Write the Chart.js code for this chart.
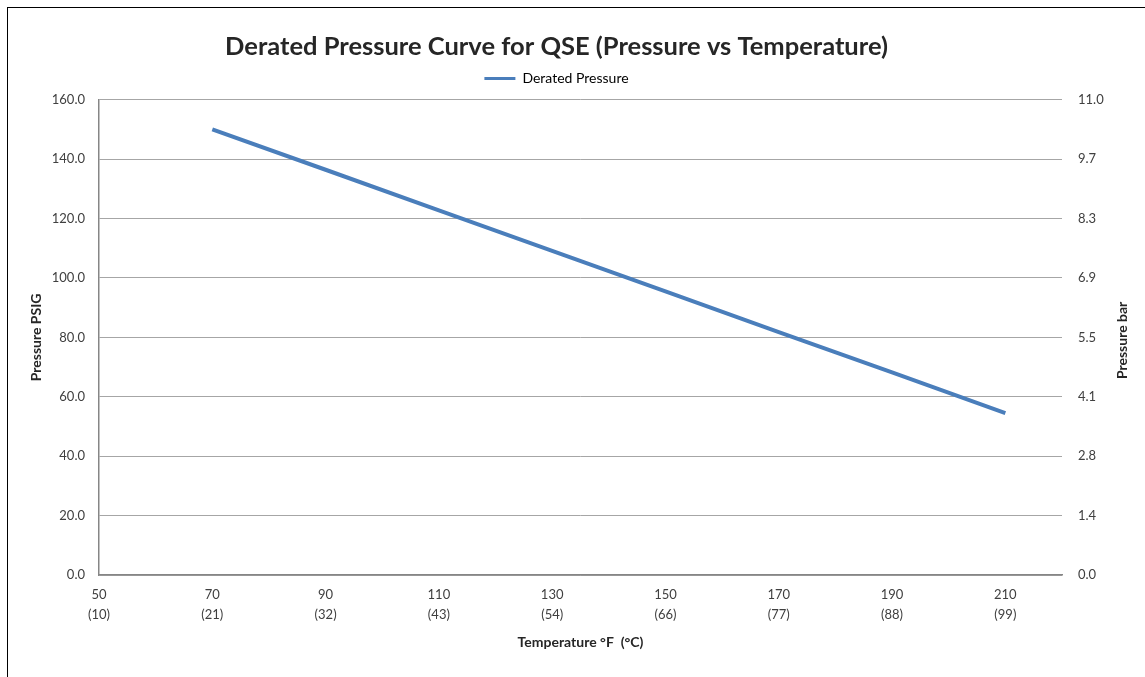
<!DOCTYPE html>
<html>
<head>
<meta charset="utf-8">
<script src="https://cdn.jsdelivr.net/npm/chart.js@4.4.1/dist/chart.umd.min.js"></script>
<style>
    html, body { margin: 0; padding: 0; background: #ffffff; }
    #wrap { position: relative; width: 1145px; height: 677px; }
    #frame {
        position: absolute; left: 7px; top: 7px; right: -5px; bottom: -5px;
        border-left: 1px solid #000; border-top: 1px solid #000;
        pointer-events: none;
    }
</style>
</head>
<body>
<div id="wrap">
    <canvas id="chart" width="1145" height="677"></canvas>
    <div id="frame"></div>
</div>
<script>
// Datos
const tempF = [50, 70, 90, 110, 130, 150, 170, 190, 210];
const tempC = ['(10)', '(21)', '(32)', '(43)', '(54)', '(66)', '(77)', '(88)', '(99)'];
const pointTemps = [70, 90, 110, 130, 150, 170, 190, 210];
const deratedPressure = [150.0, 136.4, 122.7, 109.1, 95.5, 81.8, 68.2, 54.5];
const psiTicks = [0, 20, 40, 60, 80, 100, 120, 140, 160];
const barTicks = ['0.0', '1.4', '2.8', '4.1', '5.5', '6.9', '8.3', '9.7', '11.0'];

const FONT = 'Lato, "Open Sans", sans-serif';
const tickColor = '#404040';
const titleColor = '#262626';

// Espacio extra bajo la leyenda
const legendSpacer = {
    id: 'legendSpacer',
    beforeInit(chart) {
        const origFit = chart.legend.fit;
        chart.legend.fit = function () {
            origFit.bind(chart.legend)();
            this.height += 4;
        };
    }
};

// Título del eje derecho (rotado igual que el izquierdo)
const rightAxisTitle = {
    id: 'rightAxisTitle',
    afterDraw(chart) {
        const c = chart.ctx;
        const area = chart.chartArea;
        c.save();
        c.translate(1122, (area.top + area.bottom) / 2 + 3);
        c.rotate(-Math.PI / 2);
        c.font = 'bold 14px ' + FONT;
        c.fillStyle = titleColor;
        c.textAlign = 'center';
        c.textBaseline = 'middle';
        c.fillText('Pressure bar', 0, 0);
        c.restore();
    }
};

const ctx = document.getElementById('chart');

new Chart(ctx, {
    type: 'scatter',
    data: {
        datasets: [{
            label: 'Derated Pressure',
            data: pointTemps.map((t, i) => ({ x: t, y: deratedPressure[i] })),
            showLine: true,
            borderColor: '#4a7ebb',
            backgroundColor: '#4a7ebb',
            borderWidth: 4,
            pointRadius: 0,
            yAxisID: 'y'
        }]
    },
    plugins: [legendSpacer, rightAxisTitle],
    options: {
        responsive: false,
        animation: false,
        layout: { padding: { left: 0, right: 32, top: 0, bottom: 26 } },
        plugins: {
            title: {
                display: true,
                text: 'Derated Pressure Curve for QSE (Pressure vs Temperature)',
                color: titleColor,
                font: { family: FONT, size: 25.5, weight: 'bold' },
                padding: { top: 31, bottom: 0 }
            },
            legend: {
                display: true,
                labels: {
                    color: tickColor,
                    font: { family: FONT, size: 14 },
                    boxWidth: 31,
                    boxHeight: 3,
                    padding: 10,
                    generateLabels: chart => chart.data.datasets.map((ds, i) => ({
                        text: ds.label,
                        fillStyle: ds.borderColor,
                        strokeStyle: ds.borderColor,
                        lineWidth: 0,
                        datasetIndex: i
                    }))
                }
            },
            tooltip: { enabled: false }
        },
        scales: {
            x: {
                type: 'linear',
                min: 50,
                max: 220,
                afterBuildTicks: axis => { axis.ticks = tempF.map(v => ({ value: v })); },
                grid: { display: false, drawTicks: false },
                border: { display: true, color: '#868686', width: 1.5 },
                ticks: {
                    color: tickColor,
                    font: { family: FONT, size: 13, lineHeight: 1.5 },
                    padding: 10,
                    maxRotation: 0,
                    callback: (v) => {
                        const i = tempF.indexOf(v);
                        return i >= 0 ? [String(v), tempC[i]] : '';
                    }
                },
                title: {
                    display: true,
                    text: 'Temperature °F  (°C)',
                    color: titleColor,
                    font: { family: FONT, size: 14, weight: 'bold' },
                    padding: { top: 0, bottom: 0 }
                }
            },
            y: {
                position: 'left',
                min: 0,
                max: 160,
                afterBuildTicks: axis => { axis.ticks = psiTicks.map(v => ({ value: v })); },
                afterFit: axis => { axis.width = 99; },
                grid: { color: '#a6a6a6', lineWidth: 1, drawTicks: false },
                border: { display: true, color: '#868686', width: 1.5 },
                ticks: {
                    color: tickColor,
                    font: { family: FONT, size: 13 },
                    padding: 14,
                    callback: v => v.toFixed(1)
                },
                title: {
                    display: true,
                    text: 'Pressure PSIG',
                    color: titleColor,
                    font: { family: FONT, size: 14, weight: 'bold' },
                    padding: { top: 27.6, bottom: 0 }
                }
            },
            y1: {
                position: 'right',
                min: 0,
                max: 160,
                afterBuildTicks: axis => { axis.ticks = psiTicks.map(v => ({ value: v })); },
                afterFit: axis => { axis.width = 51; },
                grid: { display: false, drawTicks: false },
                border: { display: false },
                ticks: {
                    color: tickColor,
                    font: { family: FONT, size: 13 },
                    padding: 16,
                    callback: (v, i) => barTicks[i]
                }
            }
        }
    }
});
</script>
</body>
</html>
